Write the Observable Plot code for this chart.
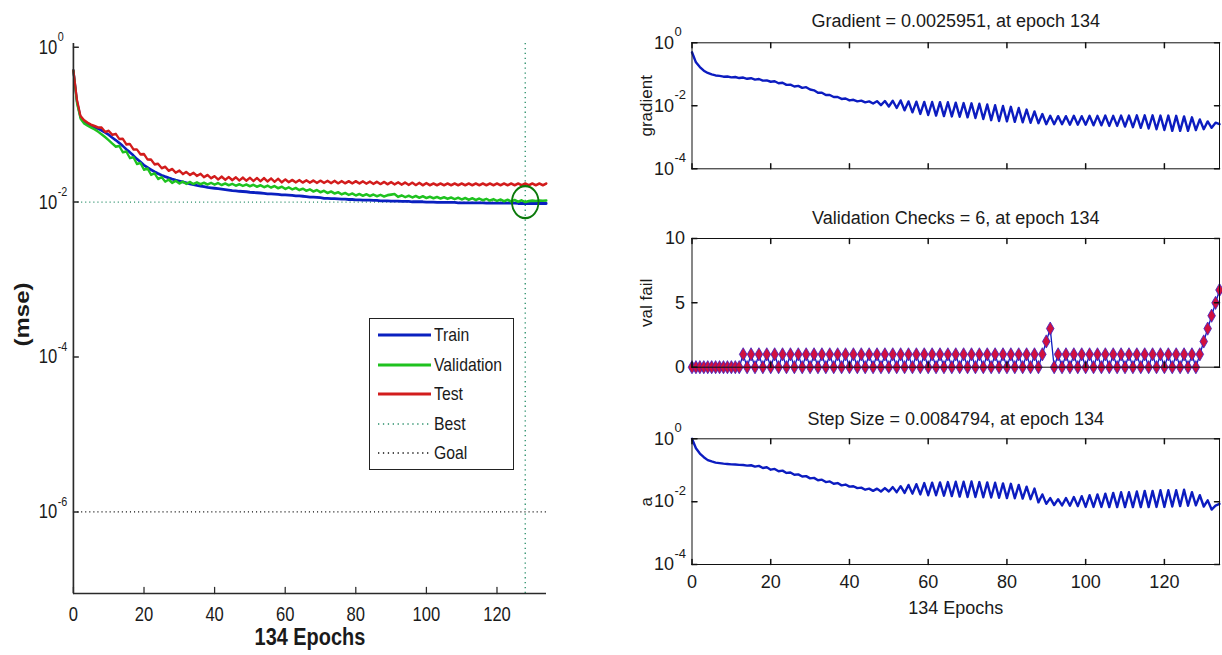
<!DOCTYPE html>
<html>
<head>
<meta charset="utf-8">
<script src="https://cdn.jsdelivr.net/npm/d3@7"></script>
<script src="https://cdn.jsdelivr.net/npm/@observablehq/plot@0.6"></script>
<style>
html,body{margin:0;padding:0;background:#fff;}
#chart{position:relative;width:1222px;height:655px;overflow:hidden;background:#fff;font-family:"Liberation Sans",Arial,sans-serif;}
#chart svg{position:absolute;max-width:none;}
#legend{position:absolute;left:369px;top:318px;width:145px;height:152px;border:1.5px solid #222;box-sizing:border-box;background:#fff;}
.lrow{position:absolute;left:0;width:140px;height:22px;}
.lrow span{position:absolute;left:64px;top:0;line-height:22px;font-size:19px;color:#1a1a1a;transform:scaleX(0.83);transform-origin:left center;white-space:nowrap;}
.lrow svg{position:absolute;left:8px;top:6px;}
</style>
</head>
<body>
<div id="chart"></div>
<script>
// ---------------- data ----------------
const trainPerf = [0.50,0.20,0.125,0.108,0.101,0.097,0.093,0.089,0.084,0.079,0.074,0.068,0.063,0.058,0.053,0.048,0.044,0.040,0.036,0.033,
0.030,0.0280,0.0262,0.0246,0.0233,0.0222,0.0213,0.0205,0.0198,0.0192,0.0187,0.0182,0.0177,0.0172,0.0168,0.0164,0.0161,0.0158,0.0155,0.0153,
0.0151,0.0149,0.0147,0.0145,0.0143,0.0141,0.0140,0.0138,0.0137,0.0136,0.0134,0.0133,0.0132,0.0131,0.0130,0.0128,0.0128,0.0127,0.0126,0.0124,
0.0124,0.0123,0.0122,0.0120,0.0120,0.0119,0.0118,0.0116,0.0116,0.0115,0.0114,0.0112,0.0112,0.0111,0.0111,0.0110,0.0109,0.0109,0.0108,0.0108,
0.0107,0.0107,0.0106,0.0106,0.0106,0.0105,0.0105,0.0104,0.0104,0.0104,0.0103,0.0103,0.0103,0.0102,0.0102,0.0102,0.0101,0.0101,0.0101,0.0101,
0.0100,0.0100,0.0100,0.0099,0.0099,0.0099,0.0099,0.0099,0.0099,0.0098,0.0098,0.0098,0.0098,0.0098,0.0098,0.0098,0.0098,0.0097,0.0097,0.0097,
0.0097,0.0097,0.0097,0.0097,0.0097,0.0097,0.0096,0.0096,0.0096,0.0096,0.0096,0.0096,0.0096,0.0096,0.0096];

const valPerf = [0.50,0.19,0.12,0.104,0.097,0.092,0.087,0.081,0.075,0.069,0.063,0.057,0.0520,0.0530,0.0440,0.0450,0.0370,0.0380,0.0310,0.0320,
0.0262,0.0272,0.0225,0.0235,0.0199,0.0210,0.0184,0.0195,0.0177,0.0188,0.0174,0.0184,0.0172,0.0182,0.0171,0.0180,0.0170,0.0178,0.0169,0.0177,
0.0168,0.0176,0.0166,0.0174,0.0165,0.0172,0.0163,0.0170,0.0162,0.0169,0.0160,0.0167,0.0158,0.0165,0.0156,0.0163,0.0154,0.0161,0.0151,0.0158,
0.0148,0.0155,0.0146,0.0152,0.0143,0.0149,0.0140,0.0146,0.0137,0.0143,0.0134,0.0140,0.0131,0.0137,0.0129,0.0134,0.0126,0.0131,0.0124,0.0129,
0.0122,0.0127,0.0121,0.0126,0.0120,0.0125,0.0119,0.0124,0.0118,0.0123,0.0125,0.0127,0.0117,0.0122,0.0116,0.0121,0.0115,0.0120,0.0114,0.0119,
0.01130,0.01175,0.01121,0.01166,0.01111,0.01156,0.01102,0.01147,0.01093,0.01138,0.01084,0.01129,0.01074,0.01119,0.01065,0.01110,0.01056,0.01101,0.01046,0.01091,
0.01037,0.01082,0.01028,0.01073,0.01019,0.01064,0.01009,0.01054,0.01000,0.01030,0.01045,0.01035,0.01050,0.01040,0.01048];

const testPerf = [0.50,0.21,0.130,0.114,0.106,0.100,0.096,0.092,0.0915,0.0806,0.0832,0.0739,0.0759,0.0653,0.0655,0.0557,0.0562,0.0480,0.0478,0.0413,
0.0416,0.0355,0.0354,0.0307,0.0312,0.0274,0.0286,0.0254,0.0267,0.0240,0.0255,0.0230,0.0245,0.0224,0.0239,0.0218,0.0232,0.0210,0.0224,0.0203,
0.0216,0.0196,0.0213,0.0194,0.0211,0.0192,0.0209,0.0190,0.0207,0.0189,0.0206,0.0187,0.0205,0.0186,0.0204,0.0185,0.0202,0.0183,0.0200,0.0180,
0.0196,0.0181,0.0193,0.0180,0.0192,0.0179,0.0191,0.0178,0.0190,0.0177,0.0189,0.0177,0.0188,0.0176,0.0188,0.0175,0.0187,0.0175,0.0186,0.0174,
0.0186,0.0174,0.0185,0.0173,0.0184,0.0172,0.0183,0.0171,0.0182,0.0170,0.0181,0.0169,0.0180,0.0168,0.0179,0.0167,0.0178,0.0166,0.0177,0.0165,
0.0176,0.0165,0.0174,0.0165,0.0174,0.0165,0.0174,0.0165,0.0174,0.0165,0.0174,0.0165,0.0174,0.0165,0.0174,0.0165,0.0174,0.0165,0.0174,0.0165,
0.0174,0.0165,0.0174,0.0165,0.0174,0.0165,0.0174,0.0165,0.0174,0.0165,0.0174,0.0165,0.0174,0.0165,0.0174];

const gradient = [0.50,0.24,0.17,0.13,0.11,0.099,0.092,0.089,0.084,0.085,0.080,0.082,0.076,0.079,0.072,0.075,0.068,0.071,0.063,0.064,
0.058,0.060,0.052,0.054,0.046,0.047,0.041,0.043,0.037,0.039,0.033,0.031,0.026,0.026,0.022,0.022,0.019,0.019,0.0165,0.0170,
0.0148,0.0155,0.0138,0.0146,0.0128,0.0138,0.0118,0.0140,0.0105,0.0142,0.0095,0.0145,0.0085,0.0148,0.0072,0.0138,0.0062,0.0135,0.0055,0.0133,
0.0051,0.0132,0.0049,0.0131,0.0047,0.0130,0.0046,0.0126,0.0045,0.0122,0.0043,0.0120,0.0041,0.0116,0.0038,0.0110,0.0035,0.0104,0.0033,0.0099,
0.0032,0.0093,0.0031,0.0085,0.0030,0.0076,0.0029,0.0066,0.0028,0.0055,0.0026,0.0048,0.0026,0.0047,0.0026,0.0047,0.0025,0.0048,0.0025,0.0047,
0.0025,0.0048,0.0024,0.0048,0.0024,0.0049,0.0023,0.0048,0.0023,0.0049,0.0022,0.0049,0.0021,0.0050,0.0020,0.0050,0.0019,0.0050,0.0018,0.0049,
0.0017,0.0049,0.0016,0.0048,0.0016,0.0046,0.0016,0.0043,0.0017,0.0037,0.0018,0.0032,0.0020,0.0029,0.0026];

const valFail = [0,0,0,0,0,0,0,0,0,0,0,0,0,
1,0,1,0,1,0,1,0,1,0,1,0,1,0,1,0,1,0,1,0,1,0,1,0,1,0,1,0,1,0,1,0,1,0,1,0,1,0,1,0,1,0,1,0,1,0,1,0,1,0,1,0,1,0,1,0,1,0,1,0,1,0,1,0,1,0,1,0,1,0,1,0,1,0,1,0,
1,2,3,
0,1,0,1,0,1,0,1,0,1,0,1,0,1,0,1,0,1,0,1,0,1,0,1,0,1,0,1,0,1,0,1,0,1,0,1,0,
1,2,3,4,5,6];

const stepSize = [1.0,0.50,0.34,0.26,0.21,0.19,0.175,0.168,0.162,0.158,0.154,0.152,0.148,0.146,0.140,0.144,0.130,0.138,0.118,0.124,
0.104,0.110,0.093,0.097,0.082,0.085,0.072,0.074,0.063,0.065,0.055,0.057,0.048,0.050,0.042,0.044,0.037,0.039,0.033,0.035,
0.030,0.031,0.027,0.028,0.024,0.026,0.022,0.026,0.021,0.027,0.021,0.029,0.020,0.031,0.019,0.034,0.018,0.036,0.017,0.039,
0.016,0.040,0.016,0.041,0.0155,0.042,0.015,0.043,0.0145,0.043,0.014,0.044,0.014,0.042,0.0138,0.041,0.0135,0.040,0.0133,0.038,
0.013,0.037,0.0128,0.034,0.0125,0.030,0.012,0.026,0.0095,0.017,0.0085,0.013,0.0078,0.012,0.0076,0.013,0.0074,0.014,0.0072,0.015,
0.0068,0.016,0.0068,0.017,0.0068,0.018,0.0067,0.019,0.0067,0.020,0.0067,0.020,0.0067,0.021,0.0067,0.022,0.0067,0.022,0.0068,0.023,
0.0068,0.023,0.0070,0.023,0.0072,0.024,0.0074,0.020,0.0076,0.016,0.0070,0.011,0.0056,0.0075,0.0085];

const bestEpoch = 128;
const bestPerf = 0.0100;
const goalPerf = 1e-6;

const epochTicks = [0, 20, 40, 60, 80, 100, 120];
const mseTicks = [1, 1e-2, 1e-4, 1e-6];
const mseTickExp = ["0", "-2", "-4", "-6"];
const logTicks = [1, 1e-2, 1e-4];
const logTickExp = ["0", "-2", "-4"];
const failTicks = [0, 5, 10];

const legendNames = ["Train", "Validation", "Test", "Best", "Goal"];

const titles = {
  gradient: "Gradient = 0.0025951, at epoch 134",
  fail: "Validation Checks = 6, at epoch 134",
  step: "Step Size = 0.0084794, at epoch 134"
};

// ---------------- styles ----------------
const FONT = '"Liberation Sans", Arial, sans-serif';
const C_TRAIN = "#0a20c0", C_VAL = "#1fc21f", C_TEST = "#d21c1c", C_BEST = "#2a8f6a", C_LINE = "#0c1cc0";
const DOTS = "1.3,3.6";
const legendLook = {
  Train: {stroke: C_TRAIN, w: 3, dash: null},
  Validation: {stroke: C_VAL, w: 3, dash: null},
  Test: {stroke: C_TEST, w: 3, dash: null},
  Best: {stroke: C_BEST, w: 1.3, dash: DOTS},
  Goal: {stroke: "#111", w: 1.3, dash: DOTS}
};

const epochs = d3.range(trainPerf.length);
const rows = (vals) => epochs.map((e, i) => ({epoch: e, value: vals[i]}));
const tickShape = {draw(ctx, l) { ctx.moveTo(0, 0); ctx.lineTo(0, -l); }};

const chart = document.getElementById("chart");

// ---------------- left panel (performance) ----------------
const K = 0.83;          // horizontal squeeze of the left figure
const LW = 560 / K;
const leftPlot = Plot.plot({
  width: LW, height: 655,
  marginLeft: 73 / K, marginRight: 14 / K, marginTop: 43, marginBottom: 62,
  style: {fontFamily: FONT, background: "transparent", color: "#1a1a1a"},
  x: {domain: [0, 134], axis: null},
  y: {type: "log", domain: [8.85e-8, 1.116], axis: null},
  marks: [
    Plot.ruleY([goalPerf], {stroke: "#111", strokeWidth: 1.3, strokeDasharray: DOTS}),
    Plot.ruleY([bestPerf], {stroke: C_BEST, strokeWidth: 1.3, strokeDasharray: DOTS}),
    Plot.ruleX([bestEpoch], {stroke: C_BEST, strokeWidth: 1.6, strokeDasharray: DOTS}),
    Plot.line(rows(trainPerf), {x: "epoch", y: "value", stroke: C_TRAIN, strokeWidth: 2.8}),
    Plot.line(rows(valPerf), {x: "epoch", y: "value", stroke: C_VAL, strokeWidth: 2.6}),
    Plot.line(rows(testPerf), {x: "epoch", y: "value", stroke: C_TEST, strokeWidth: 2.6}),
    Plot.dot([{epoch: bestEpoch, value: bestPerf}], {x: "epoch", y: "value", r: 16, stroke: "#0b7a0b", strokeWidth: 2.2, fill: "none"}),
    Plot.ruleX([0], {stroke: "#2a2a2a", strokeWidth: 2}),
    Plot.ruleY([8.85e-8], {stroke: "#2a2a2a", strokeWidth: 1.6}),
    Plot.vector(mseTicks, {y: d => d, frameAnchor: "left", rotate: 90, length: 6, anchor: "start", shape: tickShape, stroke: "#2a2a2a", strokeWidth: 1.5}),
    Plot.vector(epochTicks, {x: d => d, frameAnchor: "bottom", rotate: 0, length: 6, anchor: "start", shape: tickShape, stroke: "#2a2a2a", strokeWidth: 1.5}),
    Plot.text(mseTicks, {y: d => d, frameAnchor: "left", text: () => "10", textAnchor: "end", lineAnchor: "middle", dx: -19.5, fontSize: 20}),
    Plot.text(mseTicks, {y: d => d, frameAnchor: "left", text: (d, i) => mseTickExp[i], textAnchor: "start", lineAnchor: "middle", dx: -19, dy: -10, fontSize: 13}),
    Plot.text(epochTicks, {x: d => d, frameAnchor: "bottom", text: d => String(d), textAnchor: "middle", lineAnchor: "middle", dy: 21, fontSize: 20}),
    Plot.text(["(mse)"], {frameAnchor: "left", text: d => d, rotate: -90, textAnchor: "middle", lineAnchor: "middle", dx: -61.5, dy: -4, fontSize: 24, fontWeight: "bold"}),
    Plot.text(["134 Epochs"], {frameAnchor: "bottom", text: d => d, textAnchor: "middle", lineAnchor: "middle", dy: 44, fontSize: 24, fontWeight: "bold"})
  ]
});
leftPlot.setAttribute("width", 560);
leftPlot.setAttribute("preserveAspectRatio", "none");
leftPlot.style.left = "0px";
leftPlot.style.top = "0px";
leftPlot.style.width = "560px";
leftPlot.style.height = "655px";
chart.appendChild(leftPlot);

// legend
const legend = d3.select(chart).append("div").attr("id", "legend");
legendNames.forEach((name, i) => {
  const look = legendLook[name];
  const row = legend.append("div").attr("class", "lrow").style("top", `${5 + i * 29.5}px`);
  const s = row.append("svg").attr("width", 53).attr("height", 10);
  s.append("line").attr("x1", 0).attr("x2", 53).attr("y1", 5).attr("y2", 5)
    .attr("stroke", look.stroke).attr("stroke-width", look.w)
    .attr("stroke-dasharray", look.dash);
  row.append("span").text(name);
});

// ---------------- right panels ----------------
const RX = 600;               // left edge of the right-hand svgs
const RML = 691.5 - RX;       // their left margin
function rightPanel(o) {
  const p = Plot.plot({
    width: 1222 - RX, height: o.height,
    marginLeft: RML, marginRight: 3, marginTop: o.mt, marginBottom: o.mb,
    style: {fontFamily: FONT, background: "transparent", color: "#1a1a1a"},
    x: {domain: [0, 134], axis: null},
    y: {...o.y, axis: null},
    marks: [
      ...o.marks,
      Plot.frame({stroke: "#111", strokeWidth: 1}),
      Plot.vector(epochTicks, {x: d => d, frameAnchor: "bottom", rotate: 0, length: 5, anchor: "start", shape: tickShape, stroke: "#111"}),
      Plot.vector(epochTicks, {x: d => d, frameAnchor: "top", rotate: 180, length: 5, anchor: "start", shape: tickShape, stroke: "#111"}),
      Plot.vector(o.yTicks, {y: d => d, frameAnchor: "left", rotate: 90, length: 5, anchor: "start", shape: tickShape, stroke: "#111"}),
      Plot.vector(o.yTicks, {y: d => d, frameAnchor: "right", rotate: -90, length: 5, anchor: "start", shape: tickShape, stroke: "#111"}),
      ...o.labels,
      Plot.text([o.title], {frameAnchor: "top", text: d => d, textAnchor: "middle", lineAnchor: "middle", dy: o.titleDy, fontSize: 18}),
      Plot.text([o.ylabel], {frameAnchor: "left", text: d => d, rotate: -90, textAnchor: "middle", lineAnchor: "middle", dx: -45.5, fontSize: 17})
    ]
  });
  p.style.left = RX + "px";
  p.style.top = o.top + "px";
  chart.appendChild(p);
}

const logLabels = [
  Plot.text(logTicks, {y: d => d, frameAnchor: "left", text: () => "10", textAnchor: "end", lineAnchor: "middle", dx: -18, fontSize: 18}),
  Plot.text(logTicks, {y: d => d, frameAnchor: "left", text: (d, i) => logTickExp[i], textAnchor: "start", lineAnchor: "middle", dx: -17.5, dy: -11, fontSize: 13})
];

rightPanel({
  top: 0, height: 200, mt: 42.3, mb: 31.7,
  y: {type: "log", domain: [1e-4, 1]},
  yTicks: logTicks,
  marks: [Plot.line(rows(gradient), {x: "epoch", y: "value", stroke: C_LINE, strokeWidth: 2.4})],
  labels: logLabels,
  title: titles.gradient, titleDy: -22, ylabel: "gradient"
});

rightPanel({
  top: 200, height: 200, mt: 38, mb: 33.3,
  y: {type: "linear", domain: [0, 10]},
  yTicks: failTicks,
  marks: [
    Plot.line(rows(valFail), {x: "epoch", y: "value", stroke: C_LINE, strokeWidth: 1.3}),
    Plot.dot(rows(valFail), {x: "epoch", y: "value", symbol: "diamond", r: 4, fill: "#d0103f", stroke: "#3a22c8", strokeWidth: 0.8})
  ],
  labels: [Plot.text(failTicks, {y: d => d, frameAnchor: "left", text: d => String(d), textAnchor: "end", lineAnchor: "middle", dx: -7, fontSize: 18})],
  title: titles.fail, titleDy: -20, ylabel: "val fail"
});

rightPanel({
  top: 400, height: 255, mt: 38.3, mb: 91,
  y: {type: "log", domain: [1e-4, 1]},
  yTicks: logTicks,
  marks: [Plot.line(rows(stepSize), {x: "epoch", y: "value", stroke: C_LINE, strokeWidth: 2.4})],
  labels: [
    ...logLabels,
    Plot.text(epochTicks, {x: d => d, frameAnchor: "bottom", text: d => String(d), textAnchor: "middle", lineAnchor: "middle", dy: 18, fontSize: 18}),
    Plot.text(["134 Epochs"], {frameAnchor: "bottom", text: d => d, textAnchor: "middle", lineAnchor: "middle", dy: 43.5, fontSize: 18})
  ],
  title: titles.step, titleDy: -20, ylabel: "a"
});
</script>
</body>
</html>
